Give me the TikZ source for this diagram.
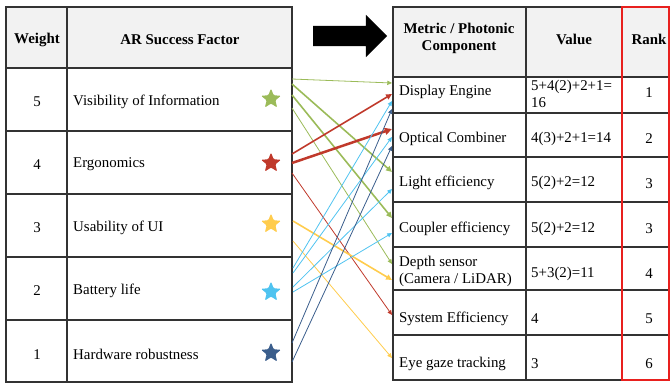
\documentclass[tikz,border=0pt]{standalone}
\usepackage{fontspec}
\setmainfont{Liberation Serif}
\usetikzlibrary{arrows.meta,shapes.geometric,shapes.arrows}
\definecolor{tabline}{HTML}{333333}
\definecolor{headfill}{HTML}{F2F2F2}
\definecolor{visgreen}{HTML}{9BBB59}
\definecolor{ergred}{HTML}{C0392B}
\definecolor{usayellow}{HTML}{FFCC4D}
\definecolor{batblue}{HTML}{4FC3F0}
\definecolor{hwblue}{HTML}{3B5E8C}
\definecolor{rankred}{HTML}{E8201E}
\newcommand{\tabfont}{\fontsize{14.9}{17}\selectfont}

\begin{document}
\begin{tikzpicture}[x=1pt, y=-1pt,
  grid/.style={draw=tabline, line width=1.3pt},
  txt/.style={font=\tabfont, inner sep=0pt, align=left, yshift=-1.5pt},
  bold/.style={txt, font=\tabfont\bfseries, align=center},
  fstar/.style={star, star points=5, star point ratio=2.3, minimum size=21pt, inner sep=0pt, rounded corners=1.2pt, fill=#1},
  link/.style={-{Triangle[length=3.5pt 1.5, width=3pt 1.5]}, line width=0.8pt},
  heavy/.style={line width=1.6pt},
  heavier/.style={line width=2.5pt}
]
\useasboundingbox (0,0) rectangle (670,383);

% left table
\fill[headfill] (6,7) rectangle (292,68);
\draw[grid] (6,7) rectangle (292,382);
\draw[grid] (67,7) -- (67,382) (6,68) -- (292,68) (6,131) -- (292,131)
  (6,194) -- (292,194) (6,257) -- (292,257) (6,320) -- (292,320);

\node[bold] (wh) at (37,38) {Weight};
\node[bold] (fh) at (180,38) {AR Success Factor};
\node[txt] (w5) at (37,100) {5};
\node[txt] (w4) at (37,163) {4};
\node[txt] (w3) at (37,226) {3};
\node[txt] (w2) at (37,289) {2};
\node[txt] (w1) at (37,353) {1};
\node[txt, anchor=west] (vis) at (73,100) {Visibility of Information};
\node[txt, anchor=west] (erg) at (73,163) {Ergonomics};
\node[txt, anchor=west] (usa) at (73,226) {Usability of UI};
\node[txt, anchor=west] (bat) at (73,289) {Battery life};
\node[txt, anchor=west] (hw) at (73,353) {Hardware robustness};
\node[fstar=visgreen] (s5) at (271,99) {};
\node[fstar=ergred] (s4) at (271,163) {};
\node[fstar=usayellow] (s3) at (271,224) {};
\node[fstar=batblue] (s2) at (271,292) {};
\node[fstar=hwblue] (s1) at (271,353) {};

% right table
\fill[headfill] (393,7) rectangle (670,77);
\draw[grid] (670,7) -- (393,7) -- (393,380) -- (670,380);
\draw[grid] (526,7) -- (526,380) (393,77) -- (670,77) (393,113) -- (670,113)
  (393,157) -- (670,157) (393,202) -- (670,202) (393,247) -- (670,247)
  (393,290) -- (670,290) (393,335) -- (670,335);

\node[bold] (mh) at (459,37) {Metric / Photonic\\Component};
\node[bold] (vh) at (574,38) {Value};
\node[bold] (rh) at (649,38) {Rank};
\node[txt, anchor=west] (disp) at (399,90) {Display Engine};
\node[txt, anchor=west] (opt) at (399,137) {Optical Combiner};
\node[txt, anchor=west] (light) at (399,181) {Light efficiency};
\node[txt, anchor=west] (coup) at (399,227) {Coupler efficiency};
\node[txt, anchor=west] (depth) at (399,270) {Depth sensor\\(Camera / LiDAR)};
\node[txt, anchor=west] (sys) at (399,317) {System Efficiency};
\node[txt, anchor=west] (eye) at (399,362) {Eye gaze tracking};
\node[txt, anchor=west] (v1) at (531,92) {5+4(2)+2+1=\\16};
\node[txt, anchor=west] (v2) at (531,137) {4(3)+2+1=14};
\node[txt, anchor=west] (v3) at (531,181) {5(2)+2=12};
\node[txt, anchor=west] (v4) at (531,227) {5(2)+2=12};
\node[txt, anchor=west] (v5) at (531,272) {5+3(2)=11};
\node[txt, anchor=west] (v6) at (531,317) {4};
\node[txt, anchor=west] (v7) at (531,362) {3};
\node[txt] (r1) at (649,91) {1};
\node[txt] (r2) at (649,137) {2};
\node[txt] (r3) at (649,182) {3};
\node[txt] (r4) at (649,227) {3};
\node[txt] (r5) at (649,272) {4};
\node[txt] (r6) at (649,317) {5};
\node[txt] (r7) at (649,362) {6};
\draw[rankred, line width=1.6pt] (622,7) rectangle (669,380);

\node[single arrow, fill=black, inner sep=10pt, single arrow head extend=11pt,
  minimum height=74pt] (shift) at (345,36) {};

% links
\coordinate (vis1) at (292,79);
\coordinate (vis2) at (292,84);
\coordinate (vis3) at (292,95);
\coordinate (vis4) at (292,108);
\coordinate (erg1) at (292,154);
\coordinate (erg2) at (292,163);
\coordinate (erg3) at (292,173);
\coordinate (usa1) at (293,221);
\coordinate (usa2) at (293,241);
\coordinate (bat1) at (293,268);
\coordinate (bat2) at (293,273);
\coordinate (bat3) at (293,287);
\coordinate (bat4) at (293,292);
\coordinate (hw1) at (292,343);
\coordinate (hw2) at (292,362);
\coordinate (disp1) at (392,83);
\coordinate (disp2) at (392,94);
\coordinate (disp3) at (392,101);
\coordinate (disp4) at (392,109);
\coordinate (opt1) at (392,129);
\coordinate (opt2) at (392,137);
\coordinate (opt3) at (392,146);
\coordinate (light1) at (392,172);
\coordinate (light2) at (392,189);
\coordinate (coup1) at (392,218);
\coordinate (coup2) at (392,233);
\coordinate (depth1) at (392,264);
\coordinate (depth2) at (392,280);
\coordinate (sys1) at (392,315);
\coordinate (eye1) at (392,358);

\draw[link, visgreen] (vis1) -- (disp1);
\draw[link, heavy, visgreen] (vis2) -- (light1);
\draw[link, heavy, visgreen] (vis3) -- (coup1);
\draw[link, visgreen] (vis4) -- (depth1);
\draw[link, heavy, ergred] (erg1) -- (disp2);
\draw[link, heavier, ergred] (erg2) -- (opt1);
\draw[link, ergred] (erg3) -- (sys1);
\draw[link, heavy, usayellow] (usa1) -- (depth2);
\draw[link, usayellow] (usa2) -- (eye1);
\draw[link, batblue] (bat1) -- (disp3);
\draw[link, batblue] (bat2) -- (opt2);
\draw[link, batblue] (bat3) -- (light2);
\draw[link, batblue] (bat4) -- (coup2);
\draw[link, hwblue] (hw1) -- (disp4);
\draw[link, hwblue] (hw2) -- (opt3);
\end{tikzpicture}
\end{document}
